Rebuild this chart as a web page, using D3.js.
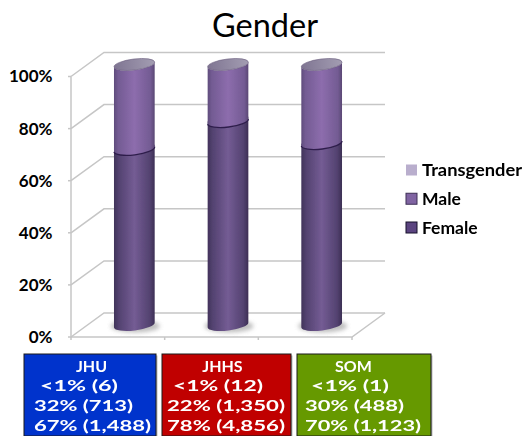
<!DOCTYPE html>
<html><head><meta charset="utf-8">
<script src="https://cdnjs.cloudflare.com/ajax/libs/d3/7.8.5/d3.min.js"></script>
<style>html,body{margin:0;padding:0;background:#fff}svg{display:block}</style>
</head><body><svg id="c" width="526" height="436"></svg>
<script>
const categories = ["JHU","JHHS","SOM"];
const female = [1488,4856,1123];
const male = [713,1350,488];
const transgender = [6,12,1];
const yTicks = [0,20,40,60,80,100];
const legendLabels = ["Transgender","Male","Female"];
const boxLines = [
  ["<1% (6)","32% (713)","67% (1,488)"],
  ["<1% (12)","22% (1,350)","78% (4,856)"],
  ["<1% (1)","30% (488)","70% (1,123)"]
];
const boxColors = ["#0033cc","#c00000","#669900"];

const svg = d3.select("#c");
const FONT = "Lato, 'Open Sans', sans-serif";
const depthX = 33, depthY = 24;
const x = d3.scaleBand().domain(categories).range([71,352]);
const y = d3.scaleLinear().domain([0,100]).range([337,76.5]);
const defs = svg.append("defs");
function grad(id, stops){
  const g = defs.append("linearGradient").attr("id",id);
  stops.forEach(s=>g.append("stop").attr("offset",s[0]).attr("stop-color",s[1]));
}
grad("gMale",[[0,"#5f4c7c"],[.1,"#735b93"],[.5,"#8d6dad"],[.9,"#735b93"],[1,"#5a4874"]]);
grad("gFemale",[[0,"#41335a"],[.12,"#534270"],[.5,"#745c94"],[.88,"#534270"],[1,"#3c2f54"]]);
grad("gTop",[[0,"#7f7592"],[1,"#a39db2"]]);
const soft = defs.append("filter").attr("id","soft").attr("x","-10%").attr("y","-10%").attr("width","120%").attr("height","120%");
soft.append("feGaussianBlur").attr("stdDeviation",0.45);
const blur = defs.append("filter").attr("id","blur").attr("x","-30%").attr("y","-60%").attr("width","160%").attr("height","220%");
blur.append("feGaussianBlur").attr("stdDeviation",2);

// title
svg.append("text").attr("x",265).attr("y",37).attr("text-anchor","middle")
  .attr("font-family",FONT).attr("font-size",32.5).attr("fill","#000").text("Gender");

// 3D frame
const grid = svg.append("g").attr("stroke","#c6c6c6").attr("stroke-width",1.5).attr("fill","none").attr("filter","url(#soft)");
yTicks.forEach(t=>{
  const v=y(t);
  grid.append("path").attr("d",`M${x.range()[0]},${v}L${x.range()[0]+depthX},${v-depthY}H${x.range()[1]+depthX}`);
  grid.append("path").attr("d",`M${x.range()[0]-3},${v}H${x.range()[0]}`);
});
grid.append("path").attr("d",`M${x.range()[0]},${y(100)}V${y(0)}H${x.range()[1]}L${x.range()[1]+depthX},${y(0)-depthY}`);
[...categories.map(c=>x(c)),x.range()[1]].forEach(v=>grid.append("path").attr("d",`M${v},${y(0)}v3`));

// y axis labels
const axis = d3.axisLeft(y).tickValues(yTicks).tickFormat(d=>d+"%").tickSize(0).tickPadding(0);
const ag = svg.append("g").attr("transform","translate(52.5,0)").call(axis);
ag.select(".domain").remove();
ag.selectAll("text").attr("font-family",FONT).attr("font-size",17).attr("font-weight",700).attr("fill","#000");

// stacked cylinders
const rows = categories.map((c,i)=>({c,Female:female[i],Male:male[i],Transgender:transgender[i]}));
const stack = d3.stack().keys(["Female","Male","Transgender"]).offset(d3.stackOffsetExpand);
const series = stack(rows);
const rx = 20.5, ry = 5.5, tilt = 7, rad = tilt*Math.PI/180;
const dx = rx*Math.cos(rad), dy = rx*Math.sin(rad);
function cyl(cx,yb,yt){
  return `M${cx-dx},${yt+dy}L${cx-dx},${yb+dy}A${rx},${ry} ${-tilt} 0 0 ${cx+dx},${yb-dy}L${cx+dx},${yt-dy}A${rx},${ry} ${-tilt} 0 1 ${cx-dx},${yt+dy}Z`;
}
const bars = svg.append("g").attr("filter","url(#soft)");
categories.forEach((c,i)=>{
  const cx = x(c)+x.bandwidth()/2+depthX/2;
  const yy = v=>y(v*100)-depthY/2;
  bars.append("ellipse").attr("cx",cx+1).attr("cy",yy(0)+1).attr("rx",rx+4).attr("ry",ry+1)
    .attr("fill","#8a8a8a").attr("opacity",.55).attr("filter","url(#blur)");
  const f = series[0][i], m = series[1][i];
  bars.append("path").attr("d",cyl(cx,yy(f[0]),yy(f[1])-3)).attr("fill","url(#gFemale)");
  bars.append("path").attr("d",cyl(cx,yy(m[0]),yy(1))).attr("fill","url(#gMale)");
  bars.append("path").attr("d",`M${cx-dx},${yy(m[0])+dy}A${rx},${ry} ${-tilt} 0 0 ${cx+dx},${yy(m[0])-dy}`)
    .attr("fill","none").attr("stroke","#2f1f4c").attr("stroke-width",1.3);
  bars.append("ellipse").attr("transform",`translate(${cx},${yy(1)}) rotate(${-tilt})`)
    .attr("rx",rx).attr("ry",ry).attr("fill","url(#gTop)").attr("stroke","#6c5f80").attr("stroke-width",.6);
});

// legend
const legendFill = ["#b9aecd","#8064a2","#5b4480"];
const legendStroke = ["none","#3e3056","#17102a"];
const legendY = d3.scalePoint().domain(legendLabels).range([170,227.5]);
legendLabels.forEach((l,i)=>{
  const v = legendY(l);
  svg.append("rect").attr("x",406).attr("y",v-5.5).attr("width",11).attr("height",11)
    .attr("fill",legendFill[i]).attr("stroke",legendStroke[i]).attr("stroke-width",1);
  svg.append("text").attr("x",422).attr("y",v+6).attr("font-family",FONT).attr("font-size",17.5)
    .attr("font-weight",700).attr("fill","#000").attr("textLength",l==="Transgender"?100:null)
    .attr("lengthAdjust","spacingAndGlyphs").text(l);
});

// info boxes
const boxX = [24,162,297], boxW = [132,129,134];
const headX = [91.5,222.5,353.5];
const lineX = [[40,34,34],[173,167,167],[311,305,305]], lineW=[[78,99,117],[90,118,118],[78,99,116]];
const lineY = [390.5,410.5,431];
categories.forEach((c,i)=>{
  svg.append("rect").attr("x",boxX[i]+1.5).attr("y",355.5).attr("width",boxW[i]).attr("height",82).attr("fill","#bbb");
  svg.append("rect").attr("x",boxX[i]).attr("y",354).attr("width",boxW[i]).attr("height",82)
    .attr("fill",boxColors[i]).attr("stroke","#1a1a1a").attr("stroke-width",1);
  svg.append("text").attr("x",headX[i]).attr("y",371.5).attr("text-anchor","middle").attr("font-family",FONT)
    .attr("font-size",16).attr("font-weight",700).attr("fill","#fff").text(c);
  boxLines[i].forEach((t,j)=>{
    svg.append("text").attr("x",lineX[i][j]).attr("y",lineY[j]).attr("font-family",FONT)
      .attr("font-size",15.5).attr("font-weight",700).attr("fill","#fff")
      .attr("textLength",lineW[i][j]).attr("lengthAdjust","spacingAndGlyphs").text(t);
  });
});
</script></body></html>
